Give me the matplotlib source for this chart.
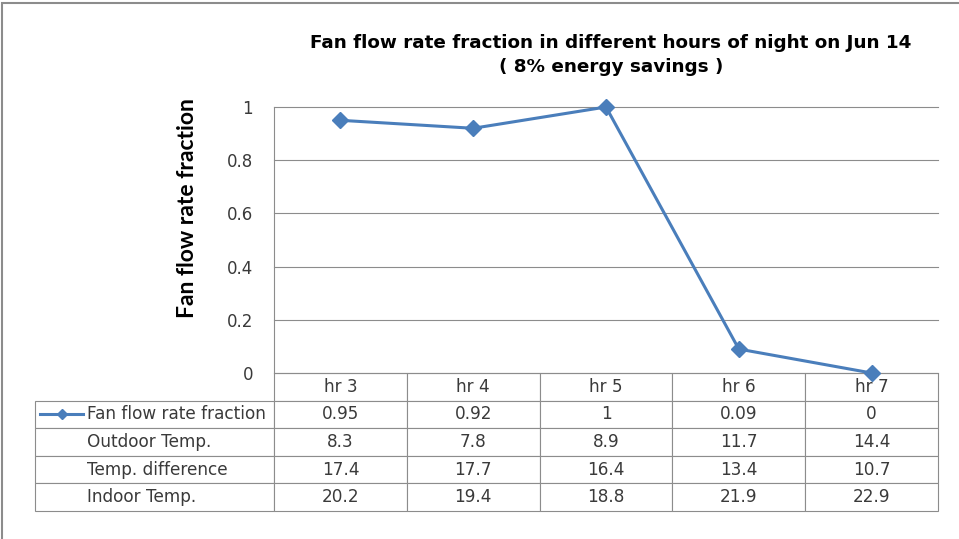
import matplotlib
matplotlib.use('Agg')
from matplotlib import pyplot as plt
from matplotlib.patches import Rectangle

hours = ['hr 3', 'hr 4', 'hr 5', 'hr 6', 'hr 7']
fan_fraction = [0.95, 0.92, 1, 0.09, 0]
outdoor_temp = [8.3, 7.8, 8.9, 11.7, 14.4]
temp_difference = [17.4, 17.7, 16.4, 13.4, 10.7]
indoor_temp = [20.2, 19.4, 18.8, 21.9, 22.9]
row_labels = ['Fan flow rate fraction', 'Outdoor Temp.', 'Temp. difference', 'Indoor Temp.']
yticks = [0, 0.2, 0.4, 0.6, 0.8, 1]
ytick_labels = ['0', '0.2', '0.4', '0.6', '0.8', '1']

blue = '#4A7EBB'
grey = '#8C8C8C'
text_col = '#3A3A3A'

W, H = 959, 539
fig = plt.figure(figsize=(W / 100, H / 100), dpi=100)

# plot area in pixel units
x0, x1, y0, y1 = 274, 938, 107, 373
ax = fig.add_axes([x0 / W, 1 - y1 / H, (x1 - x0) / W, (y1 - y0) / H])

xs = list(range(len(hours)))
ax.plot(xs, fan_fraction, color=blue, lw=2.2, marker='D', ms=8,
        zorder=5, clip_on=False)
ax.set_xlim(-0.5, len(hours) - 0.5)
ax.set_ylim(0, 1)
ax.set_yticks(yticks)
ax.set_yticklabels(ytick_labels, color=text_col, fontsize=12)
ax.set_xticks([])
ax.tick_params(axis='y', length=0, pad=15)
ax.grid(axis='y', color=grey, lw=0.8)
for gl in ax.get_ygridlines():
    gl.set_clip_on(False)
for s in ['top', 'right', 'bottom']:
    ax.spines[s].set_visible(False)
ax.spines['left'].set_color(grey)
ax.spines['left'].set_linewidth(0.8)

ax.set_ylabel('Fan flow rate fraction', fontsize=16.5, fontweight='bold',
              family=['Lato', 'DejaVu Sans'])
ax.yaxis.label.set_va('center')
ax.yaxis.set_label_coords((188 - x0) / (x1 - x0), (y1 - 208) / (y1 - y0))

# data table under the plot
cell_text = []
for label, vals in zip(row_labels, [fan_fraction, outdoor_temp, temp_difference, indoor_temp]):
    cell_text.append([label] + [str(v) for v in vals])
tx0, ty1 = 35, 511
label_w = (x0 - tx0) / (x1 - x0)
tbl = ax.table(cellText=cell_text, colLabels=[''] + hours,
               colWidths=[label_w] + [1 / len(hours)] * len(hours),
               cellLoc='center',
               bbox=[-label_w, -(ty1 - y1) / (y1 - y0), 1 + label_w, (ty1 - y1) / (y1 - y0)])
tbl.auto_set_font_size(False)
tbl.set_fontsize(12.2)
for (r, c), cell in tbl.get_celld().items():
    cell.set_edgecolor(grey)
    cell.set_linewidth(0.8)
    cell.get_text().set_color(text_col)
    if c == 0:
        if r == 0:
            cell.set_visible(False)
        cell._loc = 'left'
        cell.get_text().set_ha('left')
        cell.PAD = (87 - tx0) / (x0 - tx0)

# legend key in the first table row
key_y = -(414 - y1) / (y1 - y0)
kx = [(40 - x0) / (x1 - x0), (83 - x0) / (x1 - x0)]
ax.plot(kx, [key_y, key_y], color=blue, lw=2.2, transform=ax.transAxes, clip_on=False)
ax.plot([sum(kx) / 2], [key_y], color=blue, marker='D', ms=5,
        transform=ax.transAxes, clip_on=False)

fig.text(611 / W, 1 - 55 / H,
         'Fan flow rate fraction in different hours of night on Jun 14\n( 8% energy savings )',
         ha='center', va='center', fontsize=13.2, fontweight='bold',
         family=['DejaVu Sans'], linespacing=1.45)

# chart frame
fig.patches.append(Rectangle((1.5 / W, -0.1), 2, (H - 2.5) / H + 0.1,
                             transform=fig.transFigure, fill=False,
                             edgecolor=grey, lw=1.5))

fig.savefig('out.png', dpi=100)
